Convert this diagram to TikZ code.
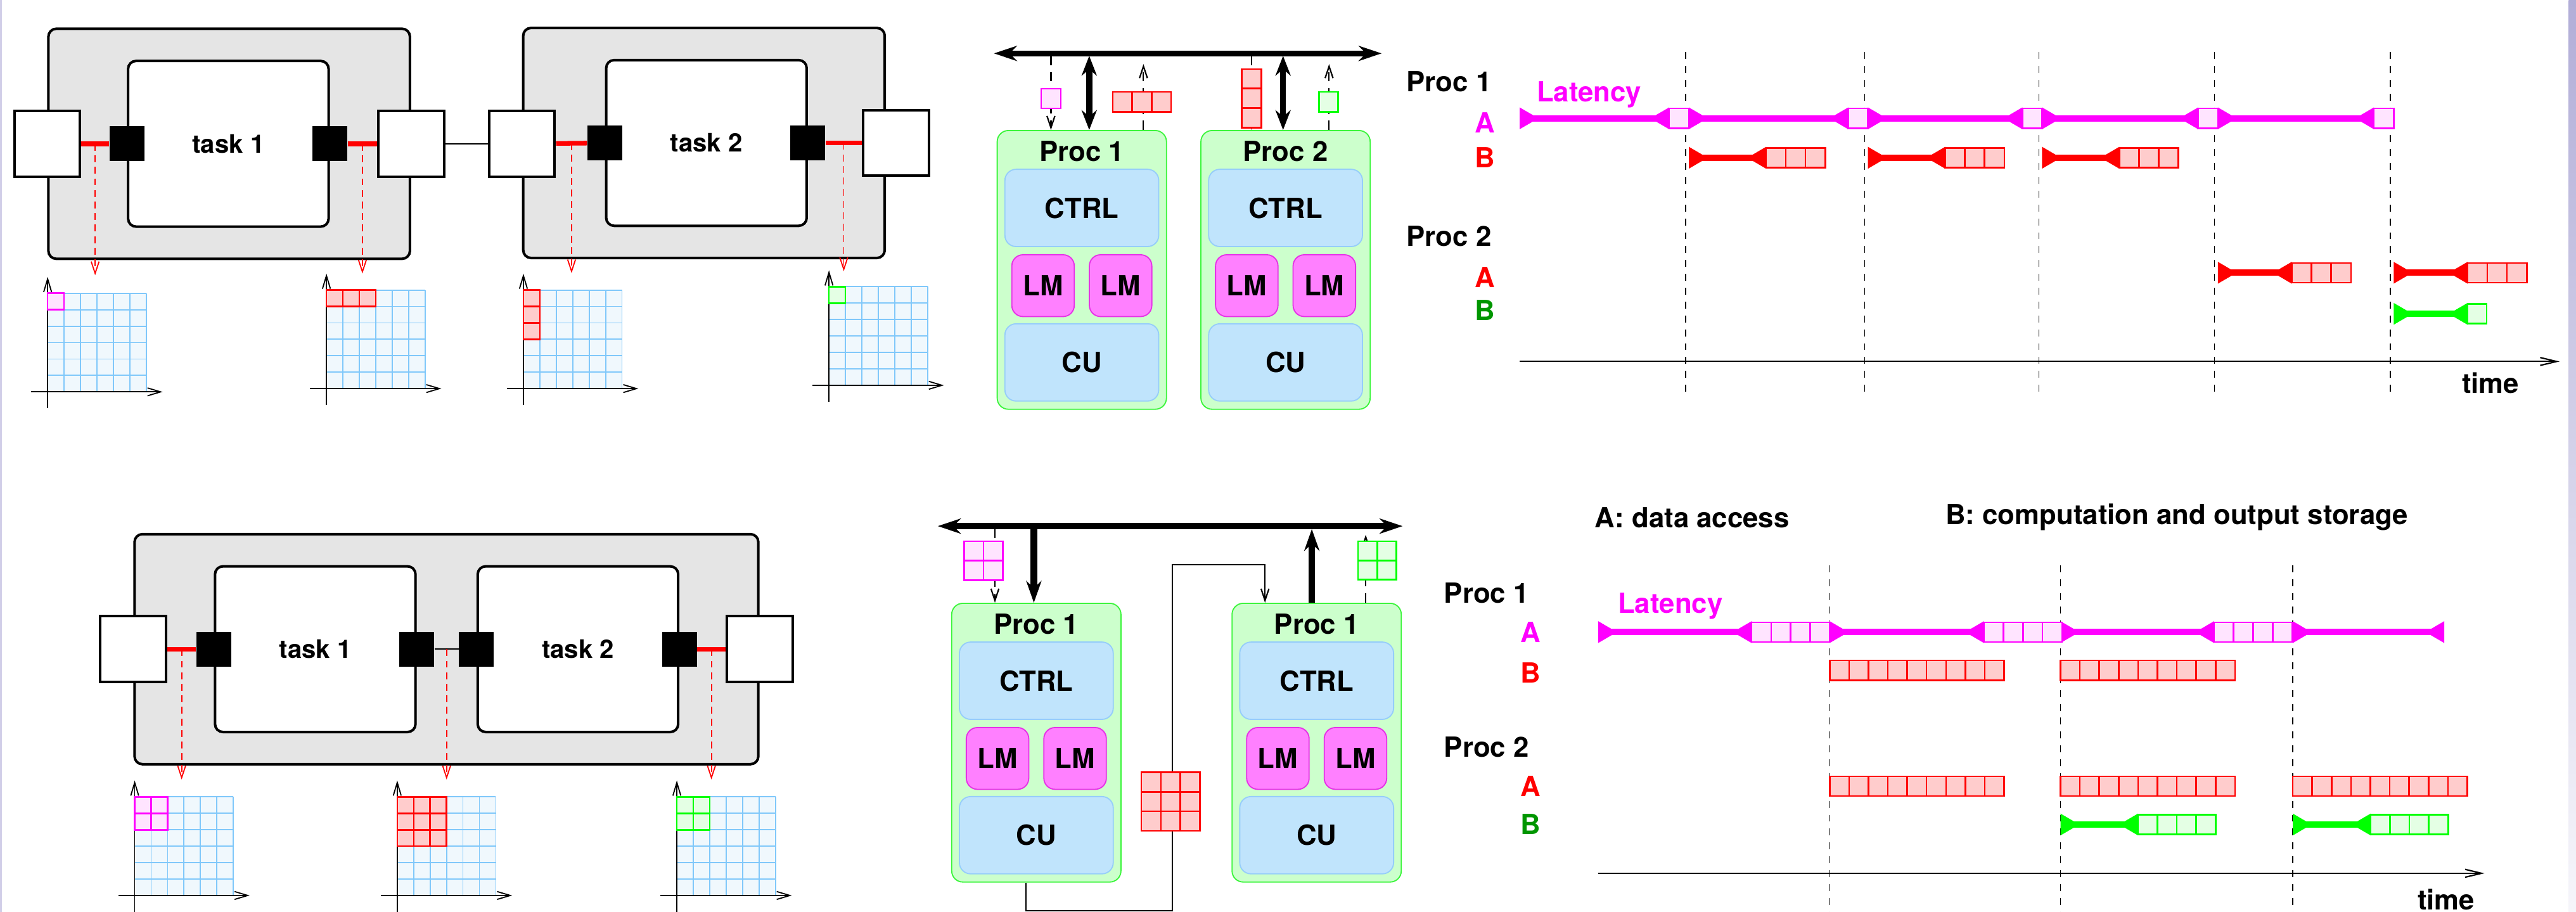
\documentclass[tikz,border=0pt]{standalone}
\usepackage{fontspec}
\setmainfont{TeX Gyre Heros}
\usetikzlibrary{arrows.meta,positioning,calc}

\definecolor{boxgray}{RGB}{229,229,229}
\definecolor{procgreen}{RGB}{204,255,204}
\definecolor{procedge}{RGB}{60,245,60}
\definecolor{unitblue}{RGB}{192,228,252}
\definecolor{unitedge}{RGB}{150,205,250}
\definecolor{lmpink}{RGB}{255,128,255}
\definecolor{lmedge}{RGB}{230,50,230}
\definecolor{mag}{RGB}{255,0,255}
\definecolor{brgreen}{RGB}{0,255,0}
\definecolor{cellred}{RGB}{255,204,204}
\definecolor{cellmag}{RGB}{255,228,255}
\definecolor{cellgreen}{RGB}{228,255,228}
\definecolor{gridblue}{RGB}{128,200,250}
\definecolor{gridfill}{RGB}{240,248,253}
\definecolor{darkgreen}{RGB}{0,150,0}
\definecolor{lavender}{RGB}{178,174,216}

\newcommand\lbfont{\fontsize{12}{14}\selectfont\bfseries}
\newcommand\tkfont{\fontsize{11}{13}\selectfont\bfseries}

\tikzset{
	outerbox/.style={draw,line width=1.1pt,fill=boxgray,rounded corners=0.12cm,minimum width=5.5cm,minimum height=3.5cm},
	taskbox/.style={draw,line width=1.1pt,fill=white,rounded corners=0.12cm,minimum width=3.05cm,minimum height=2.52cm,font=\tkfont},
	portbox/.style={draw,line width=1.1pt,fill=white,minimum size=1cm},
	blk/.style={fill=black,minimum size=0.53cm,inner sep=0pt},
	redwire/.style={red,line width=2pt},
	wire/.style={line width=0.6pt},
	reddash/.style={red,line width=0.5pt,dash pattern=on 3pt off 2pt,-{Straight Barb[length=0.18cm,width=0.12cm]}},
	gridline/.style={gridblue,line width=0.5pt},
	axis/.style={line width=0.5pt,-{Straight Barb[length=0.2cm,width=0.12cm]}},
	procbox/.style={draw=procedge,fill=procgreen,rounded corners=0.17cm,minimum width=2.575cm,minimum height=4.24cm,line width=0.5pt},
	proctitle/.style={font=\lbfont},
	unitbox/.style={draw=unitedge,fill=unitblue,rounded corners=0.17cm,minimum width=2.34cm,minimum height=1.175cm,line width=0.5pt,font=\lbfont},
	lmbox/.style={draw=lmedge,fill=lmpink,rounded corners=0.17cm,minimum width=0.95cm,minimum height=0.94cm,line width=0.5pt,font=\lbfont},
	bus/.style={line width=2.6pt,{Stealth[length=0.35cm,width=0.23cm]}-{Stealth[length=0.35cm,width=0.23cm]}},
	dblarrow/.style={line width=2.6pt,{Stealth[length=0.3cm,width=0.23cm]}-{Stealth[length=0.3cm,width=0.23cm]}},
	busarrow/.style={line width=2.8pt,-{Stealth[length=0.33cm,width=0.23cm]}},
	dasharrow/.style={line width=0.6pt,dash pattern=on 4pt off 3pt,-{Straight Barb[length=0.18cm,width=0.12cm]}},
	lbl/.style={font=\lbfont},
	vdash/.style={line width=0.4pt,dash pattern=on 3pt off 3pt},
	timeaxis/.style={line width=0.6pt,-{Straight Barb[length=0.25cm,width=0.12cm]}},
	seg/.style={line width=2.8pt,{Triangle[reversed,length=0.29cm,width=0.31cm]}-{Triangle[reversed,length=0.29cm,width=0.31cm]}},
	cellm/.style={draw=mag,fill=cellmag,line width=0.7pt},
	cellr/.style={draw=red,fill=cellred,line width=0.7pt},
	cellg/.style={draw=brgreen,fill=cellgreen,line width=0.7pt},
}

\newcommand\memgrid[2]{%
	\fill[gridfill] (#1,#2) rectangle ++(60,60);
	\foreach \k in {0,...,6} {
		\draw[gridline] ({#1+10*\k},#2) -- ++(0,60);
		\draw[gridline] (#1,{#2+10*\k}) -- ++(60,0);
	}
	\draw[axis] (#1,{#2+70}) -- (#1,{#2-10});
	\draw[axis] ({#1-10},{#2+60}) -- ({#1+70},{#2+60});
}
\newcommand\cellrow[5]{%
	\foreach \i in {1,...,#3} {
		\draw[#5] ({#1+(\i-1)*#4},{#2-6}) rectangle ++(#4,12);
	}
}
\newcommand\cellblock[6]{%
	\foreach \i in {1,...,#3} {
		\foreach \j in {1,...,#4} {
			\draw[#6] ({#1+(\i-1)*#5},{#2+(\j-1)*#5}) rectangle ++(#5,#5);
		}
	}
}
\newcommand\procunit[3]{%
	\node[procbox] (#1) at (#2) {};
	\node[proctitle] (#1t) at ([yshift=-0.325cm]#1.north) {#3};
	\node[unitbox,below=0.59cm of #1.north] (#1c) {CTRL};
	\node[lmbox,below=1.89cm of #1.north,xshift=-0.59cm] (#1l) {LM};
	\node[lmbox,below=1.89cm of #1.north,xshift=0.59cm] (#1m) {LM};
	\node[unitbox,below=2.94cm of #1.north] (#1u) {CU};
}

\begin{document}
\begin{tikzpicture}[x=0.025cm,y=-0.025cm]
	\useasboundingbox (0,0) rectangle (1568,555);
	\fill[lavender!60] (0,0) rectangle (1,555);
	\shade[top color=lavender,bottom color=lavender!12] (1563.5,0) rectangle (1568,555);

	\node[outerbox] (o1) at (139.5,87.5) {};
	\node[outerbox] (o2) at (428.5,87) {};
	\node[portbox] (pa) at (o1.west) {};
	\node[portbox] (pb) at (o1.east) {};
	\node[portbox] (pc) at (o2.west |- pb) {};
	\node[portbox] (pd) at ([xshift=0.15cm]o2.east) {};
	\node[taskbox] (t1) at (139,87.5) {task 1};
	\node[taskbox] (t2) at (430,87) {task 2};
	\node[blk] (ba) at (t1.west) {};
	\node[blk] (bb) at (t1.east) {};
	\node[blk] (bc) at (t2.west) {};
	\node[blk] (bd) at (t2.east) {};
	\draw[redwire] (pa) -- (ba);
	\draw[redwire] (bb) -- (pb);
	\draw[redwire] (pc) -- (bc);
	\draw[redwire] (bd) -- (pd);
	\draw[wire] (pb) -- (pc);
	\draw[reddash] ($(pa.east)!.5!(ba.west)$) -- ++(0,80);
	\draw[reddash] ($(bb.east)!.5!(pb.west)$) -- ++(0,79);
	\draw[reddash] ($(pc.east)!.5!(bc.west)$) -- ++(0,79);
	\draw[reddash] ($(bd.east)!.5!(pd.west)$) -- ++(0,78);
	\memgrid{29}{178.5}
	\cellblock{29}{178.5}{1}{1}{10}{cellm}
	\memgrid{198.7}{176.5}
	\cellblock{198.7}{176.5}{3}{1}{10}{cellr}
	\memgrid{318.6}{176.5}
	\cellblock{318.6}{176.5}{1}{3}{10}{cellr}
	\memgrid{504.6}{174.5}
	\cellblock{504.6}{174.5}{1}{1}{10}{cellg}

	\procunit{pr1}{658.5,164.25}{Proc 1}
	\procunit{pr2}{782.5,164.25}{Proc 2}
	\coordinate (busa) at (605,32.5);
	\coordinate (busb) at (841,32.5);
	\draw[bus] (busa) -- (busb);
	\coordinate (ka) at (663,34);
	\coordinate (kb) at (781,34);
	\draw[dblarrow] (ka) -- (ka |- pr1.north);
	\draw[dblarrow] (kb) -- (kb |- pr2.north);
	\coordinate (da) at (639.7,34);
	\coordinate (db) at (696,39);
	\coordinate (dc) at (761.8,34);
	\coordinate (dd) at (809,39);
	\draw[dasharrow] (da) -- (da |- pr1.north);
	\draw[dasharrow] (db |- pr1.north) -- (db);
	\draw[dasharrow] (dc) -- (dc |- pr2.north);
	\draw[dasharrow] (dd |- pr2.north) -- (dd);
	\cellrow{633.7}{60}{1}{12}{cellm}
	\cellrow{677.4}{62}{3}{11.8}{cellr}
	\cellblock{755.8}{42}{1}{3}{11.9}{cellr}
	\cellrow{802.8}{62}{1}{11.7}{cellg}

	\node[lbl] (pl1) at (882,49.5) {Proc 1};
	\node[lbl,text=mag] (lat1) at (967.3,57.6) {Latency};
	\node[lbl,text=mag] (a1) at (903.8,74.7) {A};
	\node[lbl,text=red] (b1) at (903.8,95.8) {B};
	\node[lbl] (pl2) at (882,143.7) {Proc 2};
	\node[lbl,text=red] (a2) at (903.8,168.8) {A};
	\node[lbl,text=darkgreen] (b2) at (903.8,189) {B};
	\foreach \d in {1026,1135,1241,1348,1455} {
		\draw[vdash] (\d,31.7) -- (\d,242);
	}
	\coordinate (ta) at (925,220);
	\coordinate (tb) at (1558,220);
	\draw[timeaxis] (ta) -- (tb);
	\node[lbl] (tm1) at (1516,233) {time};
	\foreach \s/\e in {925/1016,1028/1125,1137/1231,1243/1338,1350/1445} {
		\draw[seg,mag] (\s,72) -- (\e,72);
		\cellrow{\e}{72}{1}{12}{cellm}
	}
	\foreach \d in {1026,1135,1241} {
		\draw[seg,red] (\d+2,96) -- (\d+49,96);
		\cellrow{\d+49}{96}{3}{12}{cellr}
	}
	\foreach \d in {1348,1455} {
		\draw[seg,red] (\d+2,166) -- (\d+47,166);
		\cellrow{\d+47}{166}{3}{12}{cellr}
	}
	\draw[seg,brgreen] (1457,191) -- (1502,191);
	\cellrow{1502}{191}{1}{11.6}{cellg}

	\node[outerbox,minimum width=9.49cm] (o3) at (271.75,395.1) {};
	\node[portbox] (pe) at (o3.west) {};
	\node[portbox] (pf) at (o3.east) {};
	\node[taskbox] (t3) at (191.9,395.1) {task 1};
	\node[taskbox] (t4) at (351.8,395.1) {task 2};
	\node[blk] (be) at (t3.west) {};
	\node[blk] (bf) at (t3.east) {};
	\node[blk] (bg) at (t4.west) {};
	\node[blk] (bh) at (t4.east) {};
	\draw[redwire] (pe) -- (be);
	\draw[redwire] (bh) -- (pf);
	\draw[wire] (bf) -- (bg);
	\draw[reddash] ($(pe.east)!.5!(be.west)$) -- ++(0,79.3);
	\draw[reddash] ($(bf.east)!.5!(bg.west)$) -- ++(0,79.3);
	\draw[reddash] ($(bh.east)!.5!(pf.west)$) -- ++(0,79.3);
	\memgrid{82}{485}
	\cellblock{82}{485}{2}{2}{10}{cellm}
	\memgrid{241.8}{485}
	\cellblock{241.8}{485}{3}{3}{10}{cellr}
	\memgrid{412}{485}
	\cellblock{412}{485}{2}{2}{10}{cellg}

	\procunit{pr3}{630.8,452}{Proc 1}
	\procunit{pr4}{801.45,452}{Proc 1}
	\coordinate (busc) at (570.8,320.2);
	\coordinate (busd) at (853.8,320.2);
	\draw[bus] (busc) -- (busd);
	\coordinate (kc) at (629.3,322);
	\coordinate (kd) at (798.5,322);
	\draw[busarrow] (kc) -- (kc |- pr3.north);
	\draw[busarrow] (kd |- pr4.north) -- (kd);
	\coordinate (de) at (605.6,322);
	\coordinate (df) at (831.3,325.5);
	\draw[dasharrow] (de) -- (de |- pr3.north);
	\draw[dasharrow] (df |- pr4.north) -- (df);
	\cellblock{586.8}{329.4}{2}{2}{11.85}{cellm}
	\cellblock{826.6}{329.4}{2}{2}{11.7}{cellg}
	\draw[wire,-{Straight Barb[length=0.18cm,width=0.12cm]}] ([xshift=-0.155cm]pr3.south) -- ++(0,17) -| (713.6,343.7) -| ([xshift=-0.786cm]pr4.north);
	\cellblock{694.7}{470}{3}{3}{11.9}{cellr}

	\node[lbl] (key1) at (1030,314.9) {A: data access};
	\node[lbl] (key2) at (1325,314.9) {B: computation and output storage};
	\node[lbl] (pl3) at (904.8,360.9) {Proc 1};
	\node[lbl,text=mag] (lat2) at (1016.7,368.8) {Latency};
	\node[lbl,text=mag] (a3) at (931.5,384.7) {A};
	\node[lbl,text=red] (b3) at (931.5,409.5) {B};
	\node[lbl] (pl4) at (904.8,454.6) {Proc 2};
	\node[lbl,text=red] (a4) at (931.5,478.5) {A};
	\node[lbl,text=darkgreen] (b4) at (931.5,501.5) {B};
	\foreach \d in {1113.7,1254.2,1395.6} {
		\draw[vdash] (\d,344) -- (\d,560);
	}
	\coordinate (tc) at (972.8,531.5);
	\coordinate (td) at (1512.3,531.5);
	\draw[timeaxis] (tc) -- (td);
	\node[lbl] (tm2) at (1489,547.4) {time};
	\foreach \s/\e in {972.8/1066.2,1113.7/1207.6,1254.2/1347.7,1395.6/1487.8} {
		\draw[seg,mag] (\s,384.7) -- (\e,384.7);
	}
	\foreach \e in {1066.2,1207.6,1347.7} {
		\cellrow{\e}{384.7}{4}{11.87}{cellm}
	}
	\foreach \d in {1113.7,1254.2} {
		\cellrow{\d}{408}{9}{11.8}{cellr}
	}
	\foreach \d in {1113.7,1254.2,1395.6} {
		\cellrow{\d}{478.5}{9}{11.8}{cellr}
	}
	\foreach \s/\e in {1254.2/1301.4,1395.6/1443} {
		\draw[seg,brgreen] (\s,501.8) -- (\e,501.8);
		\cellrow{\e}{501.8}{4}{11.8}{cellg}
	}
\end{tikzpicture}
\end{document}
